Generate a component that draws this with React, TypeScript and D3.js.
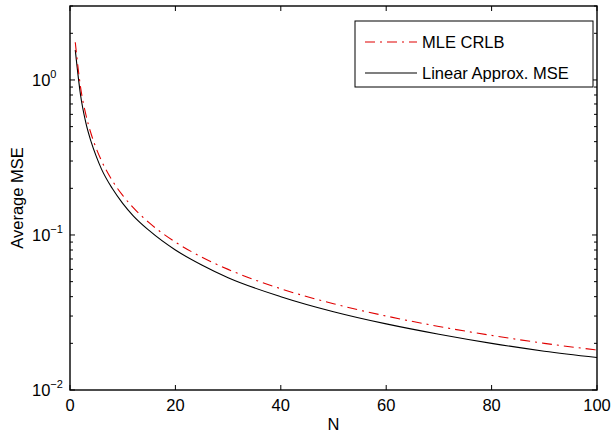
import React from "react";
import * as d3 from "d3";

const nValues = [1, 2, 3, 4, 5, 6, 8, 10, 12, 15, 20, 25, 30, 40, 50, 60, 70, 80, 90, 100];
const crlb = [1.75, 0.9, 0.6, 0.45, 0.36, 0.3, 0.225, 0.18, 0.15, 0.12, 0.09, 0.072, 0.06, 0.045, 0.036, 0.03, 0.0257, 0.0225, 0.02, 0.0181];
const linearMse = [1.56, 0.8, 0.53, 0.4, 0.32, 0.265, 0.2, 0.16, 0.133, 0.107, 0.08, 0.064, 0.053, 0.04, 0.032, 0.0267, 0.0229, 0.02, 0.0178, 0.0162];
const xTicks = [0, 20, 40, 60, 80, 100];
const yMajor = [0.01, 0.1, 1];
const yExponents = ["\u22122", "\u22121", "0"];
const seriesNames = ["MLE CRLB", "Linear Approx. MSE"];

const W = 611, H = 433;
const L = 70, R = 597, T = 6, B = 390;
const font = "Liberation Sans, Arial, Helvetica, sans-serif";
const fs = 16.5;

export default function App() {
  const x = d3.scaleLinear().domain([0, 100]).range([L, R]);
  const y = d3.scaleLog().domain([0.01, 3]).range([B, T]);
  const line = (vals: number[]) =>
    d3.line<number>().x((_, i) => x(nValues[i])).y((v) => y(v)).curve(d3.curveMonotoneX)(vals) || "";

  const minor: number[] = [];
  [0.01, 0.1, 1].forEach((d) => {
    for (let k = 2; k <= 9; k++) {
      const v = d * k;
      if (v <= 3.0001) minor.push(v);
    }
  });

  return (
    <svg width={W} height={H} style={{ position: "absolute", left: 0, top: 0, background: "#fff" }}>
      <rect x={0} y={0} width={W} height={H} fill="#fff" />
      <defs>
        <clipPath id="plot">
          <rect x={L} y={T} width={R - L} height={B - T} />
        </clipPath>
      </defs>
      <g clipPath="url(#plot)">
        <path d={line(linearMse)} fill="none" stroke="#000" strokeWidth={1.1} />
        <path d={line(crlb)} fill="none" stroke="#e00000" strokeWidth={1.1} strokeDasharray="10,5,2,5" />
      </g>
      {/* ticks */}
      <g stroke="#000" strokeWidth={1}>
        {xTicks.map((t) => (
          <g key={"xt" + t}>
            <line x1={x(t)} x2={x(t)} y1={B} y2={B - 5} />
            <line x1={x(t)} x2={x(t)} y1={T} y2={T + 5} />
          </g>
        ))}
        {yMajor.map((t) => (
          <g key={"ym" + t}>
            <line x1={L} x2={L + 5} y1={y(t)} y2={y(t)} />
            <line x1={R} x2={R - 5} y1={y(t)} y2={y(t)} />
          </g>
        ))}
        {minor.map((t) => (
          <g key={"yn" + t}>
            <line x1={L} x2={L + 3} y1={y(t)} y2={y(t)} />
            <line x1={R} x2={R - 3} y1={y(t)} y2={y(t)} />
          </g>
        ))}
      </g>
      <rect x={L} y={T} width={R - L} height={B - T} fill="none" stroke="#000" strokeWidth={1.4} />
      {/* axis labels */}
      <g fontFamily={font} fontSize={fs} fill="#000">
        {xTicks.map((t) => (
          <text key={"xl" + t} x={x(t)} y={411} textAnchor="middle">{t}</text>
        ))}
        <text x={(L + R) / 2} y={430} textAnchor="middle">N</text>
        <text transform={`translate(23,198) rotate(-90)`} textAnchor="middle">Average MSE</text>
        {yMajor.map((t, i) => (
          <text key={"yl" + t} x={32} y={y(t) + 6}>
            10
            <tspan fontSize={11} dy={-8}>{yExponents[i]}</tspan>
          </text>
        ))}
      </g>
      {/* legend */}
      <rect x={355} y={21} width={238} height={66} fill="#fff" stroke="#000" strokeWidth={1} />
      <line x1={365} x2={417} y1={42} y2={42} stroke="#e00000" strokeWidth={1.1} strokeDasharray="10,5,2,5" />
      <line x1={365} x2={417} y1={73} y2={73} stroke="#000" strokeWidth={1.1} />
      <g fontFamily={font} fontSize={fs} fill="#000">
        <text x={422} y={48}>{seriesNames[0]}</text>
        <text x={422} y={79}>{seriesNames[1]}</text>
      </g>
    </svg>
  );
}
